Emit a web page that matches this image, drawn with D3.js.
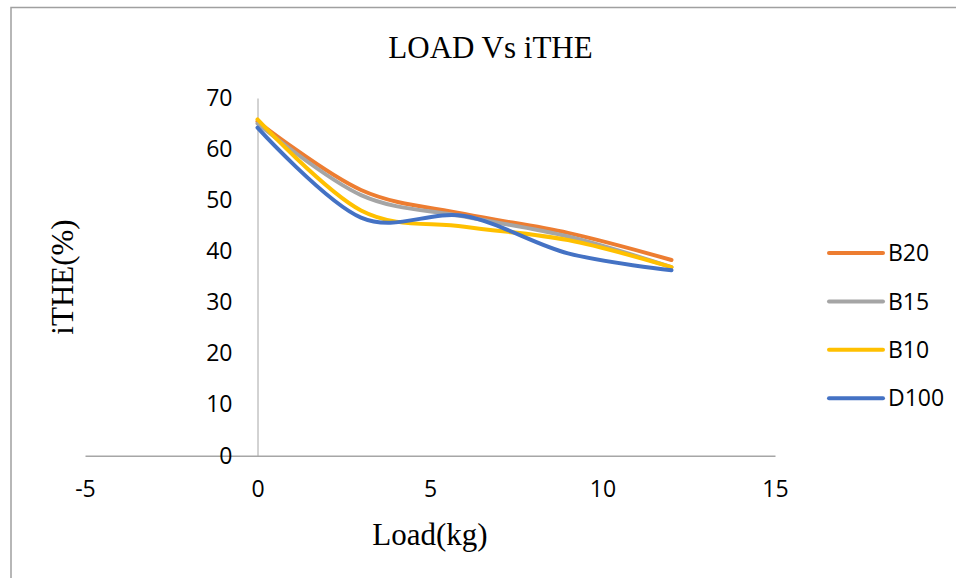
<!DOCTYPE html>
<html>
<head>
<meta charset="utf-8">
<script src="https://cdn.jsdelivr.net/npm/d3@7"></script>
<style>
  body { margin: 0; background: #fff; }
</style>
</head>
<body>
<div id="chart"></div>
<script>
var loads = [0, 3, 6, 9, 12]
var seriesNames = ['B20', 'B15', 'B10', 'D100']
var b20 = [65.4, 52.0, 47.3, 43.6, 38.3]
var b15 = [65.0, 51.0, 46.8, 42.9, 36.9]
var b10 = [65.8, 48.0, 44.8, 42.2, 36.9]
var d100 = [64.2, 46.6, 46.9, 39.6, 36.3]
var xTicks = [-5, 0, 5, 10, 15]
var yTicks = [0, 10, 20, 30, 40, 50, 60, 70]
var colors = ['#ED7D31', '#A5A5A5', '#FFC000', '#4472C4']

var width = 956, height = 578

var svg = d3.select('#chart').append('svg')
    .attr('width', width)
    .attr('height', height)

// chart area border (runs off the right and bottom edges)
svg.append('rect')
    .attr('x', 11)
    .attr('y', 7.5)
    .attr('width', 1000)
    .attr('height', 1000)
    .attr('fill', 'none')
    .attr('stroke', '#a0a0a0')
    .attr('stroke-width', 1.5)

var x = d3.scaleLinear().domain([-5, 15]).range([85, 775])
var y = d3.scaleLinear().domain([0, 70]).range([455.7, 98])

// x axis sits on y = 0, y axis on x = 0
svg.append('g')
    .attr('transform', 'translate(0,' + y(0) + ')')
    .call(d3.axisBottom(x).tickValues(xTicks).tickSize(0).tickFormat(function(d) { return String(d) }))
    .call(function(g) {
      g.select('.domain').attr('stroke', '#a6a6a6').attr('stroke-width', 1.5)
      g.selectAll('text')
        .attr('dy', null)
        .attr('y', 41)
        .attr('font-family', '"Open Sans", sans-serif')
        .attr('font-size', 23)
        .attr('fill', '#000')
    })

svg.append('g')
    .attr('transform', 'translate(' + x(0) + ',0)')
    .call(d3.axisLeft(y).tickValues(yTicks).tickSize(0).tickPadding(25))
    .call(function(g) {
      g.select('.domain').attr('stroke', '#a6a6a6').attr('stroke-width', 1)
      g.selectAll('text')
        .attr('font-family', '"Open Sans", sans-serif')
        .attr('font-size', 23)
        .attr('fill', '#000')
    })

var series = [b20, b15, b10, d100].map(function(vals, i) {
  return {
    name: seriesNames[i],
    color: colors[i],
    points: vals.map(function(v, j) { return [loads[j], v] })
  }
})

var line = d3.line()
    .x(function(d) { return x(d[0]) })
    .y(function(d) { return y(d[1]) })
    .curve(d3.curveCardinal.tension(0))

svg.selectAll('.series')
    .data(series)
  .enter().append('path')
    .attr('class', 'series')
    .attr('d', function(d) { return line(d.points) })
    .attr('fill', 'none')
    .attr('stroke', function(d) { return d.color })
    .attr('stroke-width', 4)
    .attr('stroke-linecap', 'round')

// legend
var legend = svg.selectAll('.legend')
    .data(series)
  .enter().append('g')
    .attr('class', 'legend')
    .attr('transform', function(d, i) { return 'translate(829,' + (253 + i * 48.4) + ')' })

legend.append('line')
    .attr('x1', 0)
    .attr('x2', 54)
    .attr('stroke', function(d) { return d.color })
    .attr('stroke-width', 4)
    .attr('stroke-linecap', 'round')

legend.append('text')
    .attr('x', 59)
    .attr('dy', '0.36em')
    .attr('font-family', '"Open Sans", sans-serif')
    .attr('font-size', 23)
    .text(function(d) { return d.name })

// titles
svg.append('text')
    .attr('x', 490.5)
    .attr('y', 57.7)
    .attr('text-anchor', 'middle')
    .attr('font-family', '"Liberation Serif", serif')
    .attr('font-size', 31)
    .text('LOAD Vs iTHE')

svg.append('text')
    .attr('transform', 'translate(73,277) rotate(-90)')
    .attr('text-anchor', 'middle')
    .attr('font-family', '"Liberation Serif", serif')
    .attr('font-size', 31)
    .text('iTHE(%)')

svg.append('text')
    .attr('x', 430)
    .attr('y', 545)
    .attr('text-anchor', 'middle')
    .attr('font-family', '"Liberation Serif", serif')
    .attr('font-size', 31)
    .text('Load(kg)')
</script>
</body>
</html>
